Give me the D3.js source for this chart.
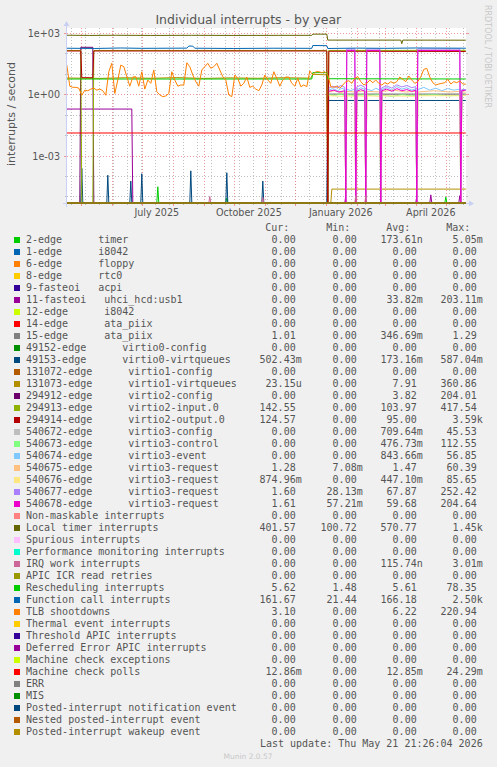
<!DOCTYPE html>
<html><head><meta charset="utf-8">
<script src="https://cdn.jsdelivr.net/npm/d3@7"></script>
<style>
html,body{margin:0;padding:0;background:#F0F0F0;}
svg{display:block;}
text{font-family:"DejaVu Sans",sans-serif;fill:#555;}
.mono{font-family:"DejaVu Sans Mono",monospace;white-space:pre;font-size:10px;}
</style></head><body><svg id="c" width="497" height="767"></svg>
<script>
// ---------------- DATA ----------------
const timeRange = ["2025-04-16T21:26", "2026-05-21T21:26"];
const yDomain = [4.8e-6, 1760];
const yMajorTicks = [1e-3, 1, 1e3];
const yTickLabels = ["1e-03", "1e+00", "1e+03"];
const yMinorTicks = [1e-5, 1e-4, 1e-2, 1e-1, 1e1, 1e2];
const xLabelMonths = ["2025-07-01", "2025-10-01", "2026-01-01", "2026-04-01"];
const xLabelTexts = ["July 2025", "October 2025", "January 2026", "April 2026"];

const S = "2025-04-17", E = "2026-05-21";
const zeroLine = [[S, 0], [E, 0]];

const d_timer = [[S,0],["2025-07-16",0],["2025-07-17",3e-5],["2025-07-18",0],["2025-09-23",0],["2025-09-24",8.5e-6],["2025-09-25",0],["2026-04-30",0],["2026-05-01",9.5e-6],["2026-05-02",0],[E,0]];
const d_usb1 = [[S,0.19],["2025-06-21",0.19],["2025-06-22",0],["2026-01-20",0],["2026-01-21",1.1e-5],["2026-01-22",0],["2026-04-01",0],["2026-04-02",1.1e-5],["2026-04-03",0],["2026-04-15",0],["2026-04-16",1.2e-5],["2026-04-17",0],["2026-05-14",0],["2026-05-15",1.1e-5],["2026-05-16",0],[E,0]];
const d_ata15 = [[S,0],["2026-01-03",0],["2026-01-04",1.0],[E,1.01]];
const d_vq0 = [[S,0],["2025-05-01",0],["2025-05-02",2.4e-4],["2025-05-03",0],["2025-05-27",0],["2025-05-28",1.1e-4],["2025-05-29",0],["2025-06-19",0],["2025-06-20",5.7e-5],["2025-06-21",0],["2025-06-30",0],["2025-07-01",1.3e-4],["2025-07-02",0],["2025-08-18",0],["2025-08-19",1.8e-4],["2025-08-20",0],["2025-09-23",0],["2025-09-24",1.45e-4],["2025-09-25",0],["2025-10-29",0],["2025-10-30",5.7e-5],["2025-10-31",0],["2026-01-02",0],["2026-01-03",0.5],[E,0.5]];
const d_vq1 = [[S,6.3],["2025-05-20",6.0],["2025-06-15",6.5],["2025-07-10",6.1],["2025-08-05",6.6],["2025-09-01",6.0],["2025-09-28",6.4],["2025-10-25",6.1],["2025-11-20",6.5],["2025-12-17",6.2],["2025-12-19",9.5],["2026-01-02",9.0],["2026-01-03",0],["2026-01-06",0],["2026-01-07",2.3e-5],[E,2.3e-5]];
const d_cfg2 = [[S,0],["2025-04-30",0],["2025-05-01",200],["2025-05-13",200],["2025-05-14",0],[E,0]];
const d_in2 = [[S,140],["2025-05-01",140],["2025-05-02",0],["2025-05-13",0],["2025-05-14",140],["2026-01-02",140],["2026-01-03",0],["2026-01-04",140],[E,142]];
const d_out2 = [[S,132],["2025-05-01",132],["2025-05-02",6.5],["2025-05-13",6.5],["2025-05-14",132],["2026-01-02",132],["2026-01-03",0],["2026-01-04",128],[E,125]];
const d_v3cfg = [["2026-01-04",1.1],["2026-01-20",1.1],["2026-01-21",0],["2026-01-22",1.1],["2026-01-30",1.1],["2026-01-31",0],["2026-02-01",1.1],["2026-02-09",1.1],["2026-02-10",0],["2026-02-11",1.1],["2026-02-24",1.1],["2026-02-25",0],["2026-02-26",1.1],["2026-04-01",1.1],["2026-04-02",0],["2026-04-03",1.1],["2026-05-15",1.1],["2026-05-16",0],["2026-05-17",1.1],[E,1.1]];
const d_v3ctl = [["2026-01-04",0.95],["2026-01-10",0.9],["2026-01-16",1.0],["2026-01-20",0.9],["2026-01-21",0],["2026-01-22",0.95],["2026-01-30",0.9],["2026-01-31",0],["2026-02-01",0.9],["2026-02-09",0.95],["2026-02-10",0],["2026-02-11",0.9],["2026-02-24",0.95],["2026-02-25",0],["2026-02-26",0.9],["2026-03-08",0.8],["2026-03-18",0.95],["2026-03-28",0.85],["2026-04-01",0.9],["2026-04-02",0],["2026-04-03",0.9],["2026-04-20",0.95],["2026-05-05",0.85],["2026-05-15",0.9],["2026-05-16",0],["2026-05-17",0.9],[E,0.9]];
const d_v3evt = [["2026-01-04",1.6],["2026-01-08",1.9],["2026-01-13",1.5],["2026-01-17",2.0],["2026-01-20",1.7],["2026-01-21",0],["2026-01-22",1.8],["2026-01-26",1.5],["2026-01-30",1.9],["2026-01-31",0],["2026-02-01",1.6],["2026-02-05",2.1],["2026-02-09",1.7],["2026-02-10",0],["2026-02-11",1.8],["2026-02-16",1.5],["2026-02-20",2.0],["2026-02-24",1.6],["2026-02-25",0],["2026-02-26",1.7],["2026-03-03",2.2],["2026-03-08",1.6],["2026-03-13",2.4],["2026-03-18",1.8],["2026-03-23",2.1],["2026-03-28",1.6],["2026-04-01",1.9],["2026-04-02",0],["2026-04-03",1.7],["2026-04-09",2.2],["2026-04-15",1.6],["2026-04-21",2.0],["2026-04-27",1.5],["2026-05-03",1.9],["2026-05-09",1.6],["2026-05-15",1.8],["2026-05-16",0],["2026-05-17",1.6],[E,1.7]];
const d_v3r5 = [["2026-01-04",1.3],["2026-01-10",1.5],["2026-01-16",1.2],["2026-01-20",1.4],["2026-01-21",0],["2026-01-22",1.4],["2026-01-30",1.3],["2026-01-31",0],["2026-02-01",1.3],["2026-02-09",1.5],["2026-02-10",0],["2026-02-11",1.4],["2026-02-24",1.3],["2026-02-25",0],["2026-02-26",1.4],["2026-03-10",1.6],["2026-03-22",1.3],["2026-04-01",1.4],["2026-04-02",0],["2026-04-03",1.3],["2026-04-20",1.5],["2026-05-05",1.3],["2026-05-15",1.4],["2026-05-16",0],["2026-05-17",1.3],[E,1.28]];
const d_v3r6 = [["2026-01-04",0.85],["2026-01-20",0.8],["2026-01-21",0],["2026-01-22",0.85],["2026-01-30",0.8],["2026-01-31",0],["2026-02-01",0.85],["2026-02-09",0.8],["2026-02-10",0],["2026-02-11",0.85],["2026-02-24",0.8],["2026-02-25",0],["2026-02-26",0.85],["2026-04-01",0.8],["2026-04-02",0],["2026-04-03",0.85],["2026-05-15",0.85],["2026-05-16",0],["2026-05-17",0.87],[E,0.87]];
const d_v3r7 = [["2026-01-04",2.0],["2026-01-08",2.5],["2026-01-12",2.1],["2026-01-16",2.7],["2026-01-20",2.2],["2026-01-21",0],["2026-01-22",165],["2026-01-30",165],["2026-01-31",0],["2026-02-01",2.3],["2026-02-05",2.8],["2026-02-09",2.2],["2026-02-10",0],["2026-02-11",165],["2026-02-24",165],["2026-02-25",0],["2026-02-26",2.1],["2026-03-03",2.6],["2026-03-08",2.0],["2026-03-13",2.9],["2026-03-18",2.3],["2026-03-23",2.7],["2026-03-28",2.1],["2026-04-01",2.4],["2026-04-02",0],["2026-04-03",165],["2026-05-15",165],["2026-05-16",0],["2026-05-17",1.7],[E,1.6]];
const d_v3r8 = [["2026-01-04",1.4],["2026-01-09",1.6],["2026-01-14",1.3],["2026-01-20",1.5],["2026-01-21",0],["2026-01-22",140],["2026-01-30",140],["2026-01-31",0],["2026-02-01",1.4],["2026-02-05",1.7],["2026-02-09",1.4],["2026-02-10",0],["2026-02-11",140],["2026-02-24",140],["2026-02-25",0],["2026-02-26",1.5],["2026-03-03",1.8],["2026-03-08",1.4],["2026-03-13",1.9],["2026-03-18",1.5],["2026-03-23",1.7],["2026-03-28",1.4],["2026-04-01",1.6],["2026-04-02",0],["2026-04-03",140],["2026-05-15",140],["2026-05-16",0],["2026-05-17",1.5],[E,1.61]];
const d_loc = [[S,780],["2025-05-10",760],["2025-06-05",775],["2025-07-10",760],["2025-08-20",772],["2025-10-01",760],["2025-11-15",768],["2025-12-18",770],["2025-12-19",880],["2026-01-02",880],["2026-01-03",450],["2026-03-17",450],["2026-03-18",300],["2026-03-19",450],[E,445]];
const d_irqw = [[S,0],["2025-09-06",0],["2025-09-07",1.0e-5],["2025-09-08",0],["2025-10-29",0],["2025-10-30",9e-6],["2025-10-31",0],["2026-01-30",0],["2026-01-31",1.1e-5],["2026-02-01",0],["2026-02-09",0],["2026-02-10",1.1e-5],["2026-02-11",0],[E,0]];
const d_resched = [[S,5.6],["2025-12-18",5.6],["2025-12-19",11.5],["2026-01-02",11.5],["2026-01-03",5.8],[E,5.62]];
const d_func = [[S,180],["2025-05-15",175],["2025-06-10",185],["2025-07-01",178],["2025-08-15",182],["2025-08-17",230],["2025-08-21",228],["2025-08-23",180],["2025-10-01",175],["2025-11-10",180],["2025-12-18",178],["2025-12-19",245],["2026-01-02",240],["2026-01-03",175],["2026-02-01",182],["2026-03-01",178],["2026-04-01",185],[E,180]];
const tlbStart = "2025-04-17", tlbStepDays = 3;
const d_tlbValues = [27,2.5,2.2,2.2,2.0,0.9,1.6,1.5,1.8,2.0,1.6,1.8,1.5,0.9,12.8,33,1.1,5,27,22.6,7.3,2.5,7,7.3,2.5,12.8,1.8,5,3.45,15.5,1.35,0.93,0.77,0.83,1.1,12.8,5,2.5,2.86,2.86,35,22.6,8.8,4.17,2.5,15.5,22.6,33,18.7,22.6,33,15.5,7.3,5,0.93,0.77,8.8,6,2.5,3.45,7,2.2,2.5,1.8,1.5,2.86,8.8,5,3.45,12.8,6,2.5,5,7,7,3.45,2.5,6,2.37,2.86,2.37,14,8.8,12.8,12.8,11.5,12.8,8.8,2.37,2.2,2.5,2.0,2.86,4.17,4.6,3.45,6,7.3,4.17,2.86,3.45,5,3.7,5,3.45,2.86,3.7,3.2,4.17,3.45,4.17,7,5.4,4.17,7.9,5,3.45,4.17,7.3,16.7,18.7,7,3.7,2.86,3.2,3.45,3.7,5.4,3.2,4.17,3.7,4.5,3.2,3.1];
const d_mcp = [[S,0.0128],[E,0.0128]];

const legendLabels = ["2-edge      timer","1-edge      i8042","6-edge      floppy","8-edge      rtc0","9-fasteoi   acpi","11-fasteoi   uhci_hcd:usb1","12-edge      i8042","14-edge      ata_piix","15-edge      ata_piix","49152-edge      virtio0-config","49153-edge      virtio0-virtqueues","131072-edge      virtio1-config","131073-edge      virtio1-virtqueues","294912-edge      virtio2-config","294913-edge      virtio2-input.0","294914-edge      virtio2-output.0","540672-edge      virtio3-config","540673-edge      virtio3-control","540674-edge      virtio3-event","540675-edge      virtio3-request","540676-edge      virtio3-request","540677-edge      virtio3-request","540678-edge      virtio3-request","Non-maskable interrupts","Local timer interrupts","Spurious interrupts","Performance monitoring interrupts","IRQ work interrupts","APIC ICR read retries","Rescheduling interrupts","Function call interrupts","TLB shootdowns","Thermal event interrupts","Threshold APIC interrupts","Deferred Error APIC interrupts","Machine check exceptions","Machine check polls","ERR","MIS","Posted-interrupt notification event","Nested posted-interrupt event","Posted-interrupt wakeup event"];
const seriesColors = ["#00CC00","#0066B3","#FF8000","#FFCC00","#330099","#990099","#CCFF00","#FF0000","#808080","#008F00","#00487D","#B35A00","#B38F00","#6B006B","#8FB300","#B30000","#BEBEBE","#80FF80","#80C9FF","#FFC080","#FFE680","#AA80FF","#EE00CC","#FF8080","#666600","#FFBFFF","#00FFCC","#CC6699","#999900","#00CC00","#0066B3","#FF8000","#FFCC00","#330099","#990099","#CCFF00","#FF0000","#808080","#008F00","#00487D","#B35A00","#B38F00"];
const legCur = ["0.00","0.00","0.00","0.00","0.00","0.00","0.00","0.00","1.01","0.00","502.43m","0.00","23.15u","0.00","142.55","124.57","0.00","0.00","0.00","1.28","874.96m","1.60","1.61","0.00","401.57","0.00","0.00","0.00","0.00","5.62","161.67","3.10","0.00","0.00","0.00","0.00","12.86m","0.00","0.00","0.00","0.00","0.00"];
const legMin = ["0.00","0.00","0.00","0.00","0.00","0.00","0.00","0.00","0.00","0.00","0.00","0.00","0.00","0.00","0.00","0.00","0.00","0.00","0.00","7.08m","0.00","28.13m","57.21m","0.00","100.72","0.00","0.00","0.00","0.00","1.48","21.44","0.00","0.00","0.00","0.00","0.00","0.00","0.00","0.00","0.00","0.00","0.00"];
const legAvg = ["173.61n","0.00","0.00","0.00","0.00","33.82m","0.00","0.00","346.69m","0.00","173.16m","0.00","7.91","3.82","103.97","95.00","709.64m","476.73m","843.66m","1.47","447.10m","67.87","59.68","0.00","570.77","0.00","0.00","115.74n","0.00","5.61","166.18","6.22","0.00","0.00","0.00","0.00","12.85m","0.00","0.00","0.00","0.00","0.00"];
const legMax = ["5.05m","0.00","0.00","0.00","0.00","203.11m","0.00","0.00","1.29","0.00","587.04m","0.00","360.86","204.01","417.54","3.59k","45.53","112.55","56.85","60.39","85.65","252.42","204.64","0.00","1.45k","0.00","0.00","3.01m","0.00","78.35","2.50k","220.94","0.00","0.00","0.00","0.00","24.29m","0.00","0.00","0.00","0.00","0.00"];
const lastUpdate = "Last update: Thu May 21 21:26:04 2026";

// ---------------- BUILD ----------------
const pDay = d3.utcParse("%Y-%m-%d");
const pTime = d3.utcParse("%Y-%m-%dT%H:%M");
const tlbSeries = d_tlbValues.map((v, i) => [d3.utcFormat("%Y-%m-%d")(d3.utcDay.offset(pDay(tlbStart), i * tlbStepDays)), v]);
const seriesData = [d_timer, zeroLine, zeroLine, zeroLine, zeroLine, d_usb1, zeroLine, zeroLine, d_ata15, zeroLine, d_vq0, zeroLine, d_vq1, d_cfg2, d_in2, d_out2, d_v3cfg, d_v3ctl, d_v3evt, d_v3r5, d_v3r6, d_v3r7, d_v3r8, zeroLine, d_loc, zeroLine, zeroLine, d_irqw, zeroLine, d_resched, d_func, tlbSeries, zeroLine, zeroLine, zeroLine, zeroLine, d_mcp, zeroLine, zeroLine, zeroLine, zeroLine, zeroLine];

const W = 497, H = 767;
const PL = 67, PR = 466, PT = 28, PB = 203;
const svg = d3.select("#c");
svg.append("rect").attr("width", W).attr("height", H).attr("fill", "#F0F0F0");
svg.append("rect").attr("x", PL).attr("y", PT).attr("width", PR - PL).attr("height", PB - PT).attr("fill", "#FFFFFF");

const x = d3.scaleUtc().domain(timeRange.map(pTime)).range([PL - 0.3, PR + 0.7]);
const y = d3.scaleLog().domain(yDomain).range([PB, PT]).clamp(true);

const gridMinor = "rgba(150,150,150,0.6)", gridMajor = "rgba(240,110,110,0.7)";
const g = svg.append("g");
// y grid
yMinorTicks.forEach(v => {
  const yy = Math.round(y(v)) + 0.5;
  g.append("line").attr("x1", PL).attr("x2", PR).attr("y1", yy).attr("y2", yy).attr("stroke", gridMinor).attr("stroke-dasharray", "1,2");
  g.append("line").attr("x1", PL - 2).attr("x2", PL).attr("y1", yy).attr("y2", yy).attr("stroke", gridMinor);
  g.append("line").attr("x1", PR).attr("x2", PR + 2).attr("y1", yy).attr("y2", yy).attr("stroke", gridMinor);
});
yMajorTicks.forEach((v, i) => {
  const yy = Math.round(y(v)) + 0.5;
  g.append("line").attr("x1", PL).attr("x2", PR).attr("y1", yy).attr("y2", yy).attr("stroke", gridMajor).attr("stroke-dasharray", "1,2");
  g.append("line").attr("x1", PL - 3).attr("x2", PL).attr("y1", yy).attr("y2", yy).attr("stroke", gridMajor);
  g.append("line").attr("x1", PR).attr("x2", PR + 3).attr("y1", yy).attr("y2", yy).attr("stroke", gridMajor);
  svg.append("text").attr("x", 60).attr("y", yy + 3.5).attr("text-anchor", "end").attr("font-size", "9.6px").text(yTickLabels[i]);
});
// x grid
const t0 = x.domain()[0], t1 = x.domain()[1];
d3.utcMonday.every(2).range(t0, t1).forEach(t => {
  const xx = Math.round(x(t)) + 0.5;
  g.append("line").attr("x1", xx).attr("x2", xx).attr("y1", PT).attr("y2", PB).attr("stroke", gridMinor).attr("stroke-dasharray", "1,2");
  g.append("line").attr("x1", xx).attr("x2", xx).attr("y1", PB).attr("y2", PB + 2).attr("stroke", gridMinor);
});
d3.utcMonth.range(t0, t1).forEach(t => {
  const xx = Math.round(x(t)) + 0.5;
  g.append("line").attr("x1", xx).attr("x2", xx).attr("y1", PT).attr("y2", PB).attr("stroke", gridMajor).attr("stroke-dasharray", "1,2");
  g.append("line").attr("x1", xx).attr("x2", xx).attr("y1", PB).attr("y2", PB + 3).attr("stroke", gridMajor);
});
xLabelMonths.forEach((m, i) => {
  const t = d3.utcDay.offset(pDay(m), 15);
  svg.append("text").attr("x", x(t)).attr("y", 215.5).attr("text-anchor", "middle").attr("font-size", "9.6px").text(xLabelTexts[i]);
});

// axes
const axisCol = "#C8D0F4";
svg.append("line").attr("x1", PL - 0.5).attr("x2", PL - 0.5).attr("y1", PB + 4).attr("y2", PT - 3).attr("stroke", axisCol);
svg.append("path").attr("d", `M${PL - 3.5},${PT - 2} L${PL - 0.5},${PT - 7} L${PL + 2.5},${PT - 2} Z`).attr("fill", axisCol);
svg.append("line").attr("x1", PL - 4).attr("x2", PR + 4).attr("y1", PB + 0.5).attr("y2", PB + 0.5).attr("stroke", axisCol);
svg.append("path").attr("d", `M${PR + 3},${PB - 2.5} L${PR + 8},${PB + 0.5} L${PR + 3},${PB + 3.5} Z`).attr("fill", axisCol);

// series
svg.append("clipPath").attr("id", "clip").append("rect").attr("x", PL).attr("y", PT).attr("width", PR - PL).attr("height", PB - PT + 1);
const line = d3.line().x(d => x(pDay(d[0]))).y(d => y(Math.max(d[1], yDomain[0])));
const lg = svg.append("g").attr("clip-path", "url(#clip)");
seriesData.forEach((data, i) => {
  lg.append("path").attr("d", line(data)).attr("fill", "none").attr("stroke", seriesColors[i]).attr("stroke-width", 1);
});

// title & labels
svg.append("text").attr("x", 248.3).attr("y", 24).attr("text-anchor", "middle").attr("font-size", "12.5px").text("Individual interrupts - by year");
svg.append("text").attr("transform", "translate(15,114) rotate(-90)").attr("text-anchor", "middle").attr("font-size", "11px").text("interrupts / second");
svg.append("text").attr("transform", "translate(484.5,5) rotate(90)").attr("text-anchor", "start").attr("font-size", "8px").style("fill", "#C8C8C8").text("RRDTOOL / TOBI OETIKER");

// legend
const colEnds = [295.7, 356.7, 416.7, 476.7];
["Cur:", "Min:", "Avg:", "Max:"].forEach((h, i) => {
  svg.append("text").attr("class", "mono").attr("x", colEnds[i] - 6.4).attr("y", 231).attr("text-anchor", "end").text(h);
});
const split = s => { const m = s.match(/^([\d.]+)([a-zA-Z]?)$/); return [m[1], m[2]]; };
legendLabels.forEach((lab, i) => {
  const by = 243.3 + 12 * i;
  svg.append("rect").attr("x", 14).attr("y", by - 6.3).attr("width", 6).attr("height", 6).attr("fill", seriesColors[i]);
  svg.append("text").attr("class", "mono").attr("x", 26).attr("y", by).text(lab);
  [legCur[i], legMin[i], legAvg[i], legMax[i]].forEach((s, j) => {
    const [num, suf] = split(s);
    svg.append("text").attr("class", "mono").attr("x", colEnds[j]).attr("y", by).attr("text-anchor", "end").text(num);
    if (suf) svg.append("text").attr("class", "mono").attr("x", colEnds[j]).attr("y", by).text(suf);
  });
});
svg.append("text").attr("class", "mono").attr("x", 482.7).attr("y", 746.5).attr("text-anchor", "end").text(lastUpdate);
svg.append("text").attr("x", 248).attr("y", 758.5).attr("text-anchor", "middle").attr("font-size", "7.5px").style("fill", "#C8C8C8").text("Munin 2.0.57");
</script></body></html>
